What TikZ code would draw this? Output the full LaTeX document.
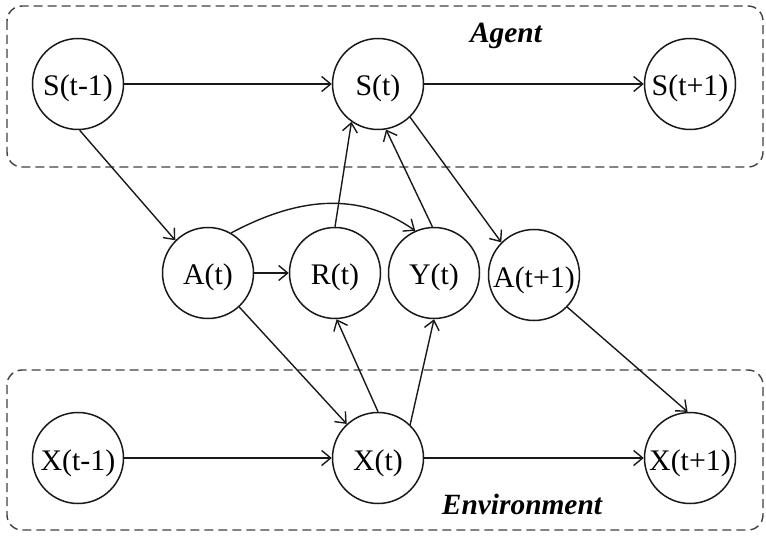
\documentclass[tikz,border=0pt]{standalone}
\usepackage{fontspec}
\setmainfont{Liberation Serif}
\usetikzlibrary{arrows.meta}
\begin{document}
\begin{tikzpicture}[x=1bp,y=-1bp,
  st/.style={circle,draw=black!90,line width=1.5bp,minimum size=91bp,inner sep=0pt,text height=24bp,text depth=0bp,font=\fontsize{30}{32}\selectfont},
  arr/.style={-{Straight Barb[length=9bp,width=15bp,line width=1.4bp]},line width=1.4bp,draw=black!90},
  grp/.style={draw=black!75,line width=1.4bp,dash pattern=on 9bp off 5bp,rounded corners=15bp},
  lbl/.style={font=\fontsize{29.5}{31}\selectfont\bfseries\itshape}]
\useasboundingbox (0,0) rectangle (766,536);
\draw[grp] (7,6) rectangle (763,167);
\draw[grp] (7,370) rectangle (763,530);
\node[lbl] (agent) at (506,36) {Agent};
\node[lbl] (env) at (522,504) {Environment};
\node[st] (Sm) at (78,84) {S(t-1)};
\node[st] (S) at (378,84) {S(t)};
\node[st] (Sp) at (690,84) {S(t+1)};
\node[st] (A) at (208,273) {A(t)};
\node[st] (R) at (335,273) {R(t)};
\node[st] (Y) at (434,273) {Y(t)};
\node[st] (Ap) at (534,275) {A(t+1)};
\node[st] (Xm) at (78,458) {X(t-1)};
\node[st] (X) at (378,458) {X(t)};
\node[st] (Xp) at (690,458) {X(t+1)};
\draw[arr] (Sm) -- (S);
\draw[arr] (S) -- (Sp);
\draw[arr] (Sm.-88) -- (A.135);
\draw[arr] (A) -- (R);
\draw[arr] (A.60) to[out=28,in=145] (Y.114);
\draw[arr] (A) -- (X);
\draw[arr] (R.90) -- (S.235);
\draw[arr] (Y.92) -- (S.-80);
\draw[arr] (S.-46) -- (Ap.135);
\draw[arr] (Ap.-44) -- (Xp.93);
\draw[arr] (X.90) -- (R.-88);
\draw[arr] (X.46) -- (Y.-90);
\draw[arr] (Xm) -- (X);
\draw[arr] (X) -- (Xp);
\end{tikzpicture}
\end{document}
